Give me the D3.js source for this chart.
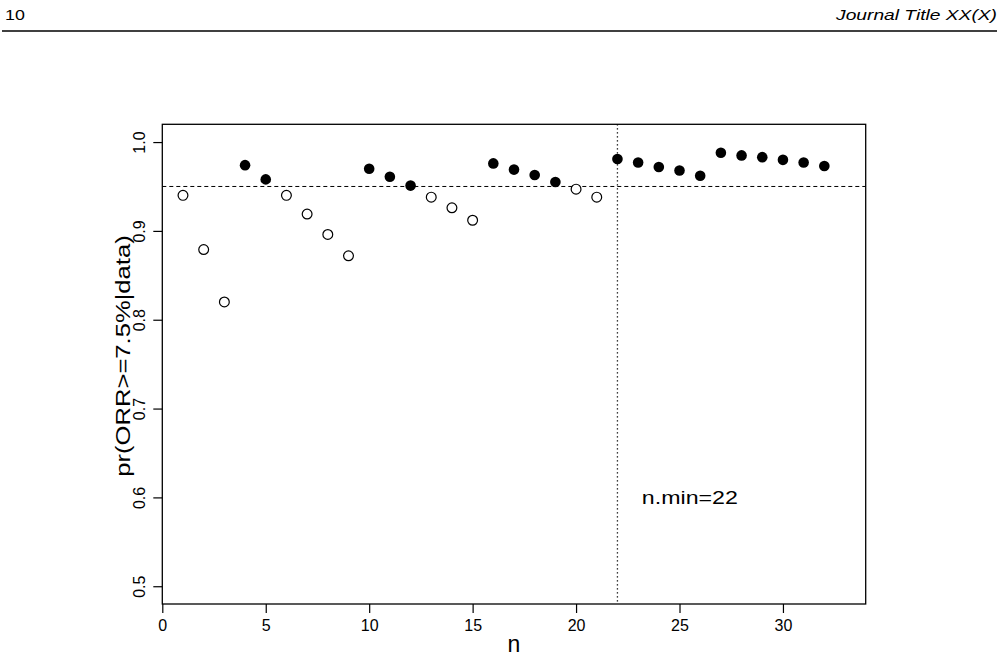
<!DOCTYPE html>
<html>
<head>
<meta charset="utf-8">
<script src="https://cdn.jsdelivr.net/npm/d3@7"></script>
<style>
    body { margin: 0; background: #fff; }
    text { font-family: "Liberation Sans", Arial, Helvetica, sans-serif; fill: #000; }
</style>
</head>
<body>
<div id="chart"></div>
<script>
// Sample sizes n and posterior probability pr(ORR>=7.5%|data)
const ns = [1, 2, 3, 4, 5, 6, 7, 8, 9, 10, 11, 12, 13, 14, 15, 16,
            17, 18, 19, 20, 21, 22, 23, 24, 25, 26, 27, 28, 29, 30, 31, 32];
const probs = [0.940, 0.879, 0.820, 0.974, 0.958, 0.940, 0.919, 0.896,
               0.872, 0.970, 0.961, 0.951, 0.938, 0.926, 0.912, 0.976,
               0.969, 0.963, 0.955, 0.947, 0.938, 0.981, 0.977, 0.972,
               0.968, 0.962, 0.988, 0.985, 0.983, 0.980, 0.977, 0.973];

const threshold = 0.95;
const nMin = 22;

const xTicks = [0, 5, 10, 15, 20, 25, 30];
const yTicks = [0.5, 0.6, 0.7, 0.8, 0.9, 1.0];

const data = ns.map((n, i) => ({ n: n, p: probs[i] }));

// page
const pageW = 999, pageH = 658;
const page = d3.select("#chart")
    .append("svg")
    .attr("width", pageW)
    .attr("height", pageH);

// journal running header (glyphs a little wider than the font's own)
page.append("text")
    .attr("transform", "translate(5,20) scale(1.15,1)")
    .style("font-size", "15.5px")
    .text("10");

page.append("text")
    .attr("transform", "translate(997,20) scale(1.24,1)")
    .attr("text-anchor", "end")
    .style("font-size", "15.5px")
    .style("font-style", "italic")
    .text("Journal Title XX(X)");

page.append("line")
    .attr("x1", 2).attr("x2", 997)
    .attr("y1", 31).attr("y2", 31)
    .attr("stroke", "#000")
    .attr("stroke-width", 1.3);

// plot region
const margin = { top: 124.3, left: 162.3 };
const width = 703.4;
const height = 479.7;

const svg = page.append("g")
    .attr("transform", `translate(${margin.left},${margin.top})`);

// Scales
const x = d3.scaleLinear().domain([0, 34]).range([0, width]);
const y = d3.scaleLinear().domain([0.48, 1.02]).range([height, 0]);

// Reference lines
svg.append("line")
    .attr("x1", 0).attr("x2", width)
    .attr("y1", y(threshold)).attr("y2", y(threshold))
    .attr("stroke", "#000")
    .attr("stroke-width", 1)
    .attr("stroke-dasharray", "4,3");

svg.append("line")
    .attr("x1", x(nMin)).attr("x2", x(nMin))
    .attr("y1", 0).attr("y2", height)
    .attr("stroke", "#000")
    .attr("stroke-width", 1.3)
    .attr("stroke-dasharray", "1.3,2.7");

// Points: filled when probability reaches the threshold
svg.selectAll("circle")
    .data(data)
    .enter()
    .append("circle")
    .attr("cx", d => x(d.n))
    .attr("cy", d => y(d.p))
    .attr("r", d => d.p >= threshold ? 5.3 : 4.9)
    .attr("fill", d => d.p >= threshold ? "#000" : "#fff")
    .attr("stroke", "#000")
    .attr("stroke-width", d => d.p >= threshold ? 0 : 1.2);

// Box
svg.append("rect")
    .attr("width", width)
    .attr("height", height)
    .attr("fill", "none")
    .attr("stroke", "#000")
    .attr("stroke-width", 1.3);

// Axes
const xAxis = svg.append("g")
    .attr("transform", `translate(0, ${height})`)
    .call(d3.axisBottom(x).tickValues(xTicks).tickSize(9).tickFormat(d3.format("d")));
xAxis.select(".domain").remove();
xAxis.selectAll("line").attr("stroke-width", 1.2);
xAxis.selectAll("text")
    .attr("y", 26.7)
    .attr("dy", null)
    .style("font-size", "16px")
    .style("font-family", "'Liberation Sans', Arial, sans-serif");

const yAxis = svg.append("g")
    .call(d3.axisLeft(y).tickValues(yTicks).tickSize(9).tickFormat(d3.format(".1f")));
yAxis.select(".domain").remove();
yAxis.selectAll("line").attr("stroke-width", 1.2);
yAxis.selectAll("text")
    .attr("x", null)
    .attr("dy", null)
    .attr("text-anchor", "middle")
    .attr("transform", "translate(-17.3,0) rotate(-90)")
    .style("font-size", "16px")
    .style("font-family", "'Liberation Sans', Arial, sans-serif");

// Labels
svg.append("text")
    .attr("x", width / 2)
    .attr("y", height + 47.7)
    .attr("text-anchor", "middle")
    .style("font-size", "23px")
    .text("n");

svg.append("text")
    .attr("transform", `translate(${130 - margin.left},${356 - margin.top}) rotate(-90) scale(1.28,1)`)
    .attr("text-anchor", "middle")
    .style("font-size", "20px")
    .text("pr(ORR>=7.5%|data)");

svg.append("text")
    .attr("transform", `translate(${x(25.5)},${y(0.6) + 6.7}) scale(1.22,1)`)
    .attr("text-anchor", "middle")
    .style("font-size", "19px")
    .text("n.min=" + nMin);
</script>
</body>
</html>
